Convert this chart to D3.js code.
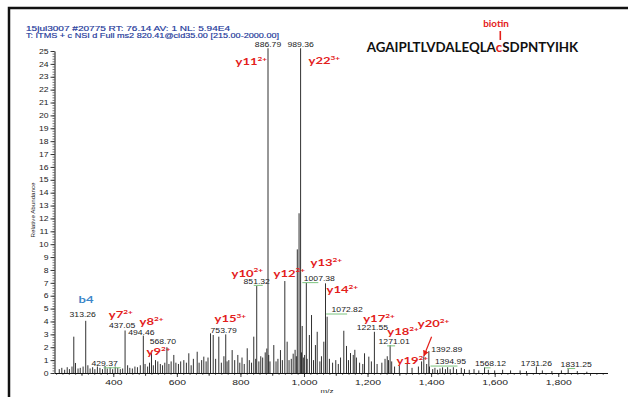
<!DOCTYPE html>
<html>
<head>
<meta charset="utf-8">
<script src="https://cdn.jsdelivr.net/npm/d3@7"></script>
<style>
  body { margin: 0; background: #fff; }
  svg { display: block; }
</style>
</head>
<body>
<div id="root"></div>
<script>
// ---- chart data ----
const headerLines = [
  "15jul3007 #20775  RT: 76.14  AV: 1  NL: 5.94E4",
  "T: ITMS + c NSI d Full ms2 820.41@cid35.00 [215.00-2000.00]"
];
const peptideParts = ["AGAIPLTLVDALEQLA", "c", "SDPNTYIHK"];
const modLabel = "biotin";

const xTicks = [400, 600, 800, 1000, 1200, 1400, 1600, 1800];
const yTicks = d3.range(0, 26);

// labelled peaks (m/z, relative abundance); the two base peaks run off the top
const labelMz = [313.26, 429.37, 437.05, 494.46, 568.70, 753.79, 851.32, 886.79, 989.36,
  1007.38, 1072.82, 1221.55, 1271.01, 1392.89, 1394.95, 1568.12, 1731.26, 1831.25];
const labelAb = [4.05, 0.35, 3.3, 2.9, 2.0, 3.0, 6.75, 100, 90,
  7.0, 4.37, 3.2, 2.17, 1.7, 0.5, 0.44, 0.5, 0.3];

// unlabelled peaks [m/z, relative abundance]
const otherPeaks = [
  [230, 0.3], [238, 0.4], [247, 0.25], [255, 0.45], [262, 0.3], [270, 0.5], [275.7, 2.82], [281, 0.78],
  [289, 0.35], [296, 0.4], [305, 0.5], [320, 0.6], [327, 0.35], [335, 0.45], [342, 0.3], [350, 0.5],
  [358, 0.4], [366, 0.3], [374, 0.55], [381, 0.35], [390, 0.45], [398, 0.3], [406, 0.5], [414, 0.4],
  [422, 0.3], [445, 0.6], [452, 0.4], [460, 0.35], [468, 0.5], [476, 0.45], [485, 0.6], [500, 0.7],
  [508, 0.5], [514, 0.8], [520.2, 1.58], [526, 0.6], [532.8, 1.0], [540, 0.9], [548, 0.7], [555, 0.6],
  [562, 0.8], [575, 0.7], [582, 0.9], [590.4, 1.4], [597, 0.8], [605, 0.7], [612, 0.9], [621.9, 1.0],
  [630, 0.8], [637.6, 1.53], [645, 0.6], [652, 1.1], [664, 1.65], [670, 0.8], [678, 1.0], [684.8, 1.27],
  [692, 0.9], [698, 1.2], [705.9, 3.08], [714.4, 2.95], [722, 1.1], [732, 2.82], [740, 0.8], [748, 1.3],
  [758, 0.9], [763.5, 1.0], [774, 1.78], [782, 1.0], [791.8, 1.4], [798, 0.8], [805, 1.2], [812, 0.7],
  [821.4, 1.92], [828, 1.0], [835, 0.8], [842, 2.82], [848, 1.1], [858, 0.9], [864, 1.3], [870, 1.2],
  [878, 1.6], [883, 1.9], [889, 1.4], [893, 0.9], [905, 2.17], [912, 0.9], [918, 1.1], [926, 1.78],
  [932, 1.0], [939.7, 7.14], [947, 2.43], [953, 1.0], [960, 1.1], [966, 1.5], [972, 1.8], [976, 1.3],
  [979, 9.6], [984.5, 12.4], [992, 1.6], [994.4, 3.65], [998, 1.2], [1002, 1.4], [1010, 1.1], [1017, 2.95],
  [1023.7, 4.5], [1030, 1.0], [1036, 2.17], [1041.6, 3.2], [1050, 0.9], [1055, 1.3], [1062.4, 2.43],
  [1067.7, 6.96], [1080, 1.1], [1090, 0.8], [1100, 1.0], [1108, 0.7], [1115, 1.2], [1125.3, 3.28],
  [1133.8, 2.1], [1140, 1.0], [1146.4, 1.55], [1155, 1.4], [1160, 1.8], [1165, 1.2], [1175, 0.8],
  [1185, 0.7], [1190.5, 1.53], [1204, 1.27], [1212, 0.9], [1230, 0.7], [1245, 0.8], [1255, 1.1],
  [1262, 1.3], [1266, 1.0], [1276, 0.9], [1285, 0.5], [1300, 0.6], [1324.8, 0.75], [1340, 0.4],
  [1360, 0.5], [1370, 0.9], [1377, 1.3], [1386, 0.7], [1405, 0.3], [1412, 0.4], [1420, 0.25],
  [1428, 0.35], [1436, 0.44], [1445, 0.3], [1452, 0.45], [1460, 0.3], [1470, 0.45], [1480, 0.3],
  [1495, 0.4], [1505, 0.3], [1520, 0.25], [1535, 0.3], [1550, 0.2], [1580, 0.25], [1600, 0.2],
  [1625, 0.25], [1650, 0.2], [1680, 0.2], [1700, 0.15], [1750, 0.2], [1780, 0.15], [1810, 0.2],
  [1860, 0.15], [1890, 0.1]
];

// fragment ion annotations: name, charge, anchor (m/z, abundance) of the text
const ionNames = ["y11", "y22", "b4", "y7", "y8", "y9", "y15", "y10", "y12", "y13", "y14", "y17", "y18", "y20", "y19"];
const ionCharges = ["2+", "3+", "", "2+", "2+", "2+", "3+", "2+", "2+", "2+", "2+", "2+", "2+", "2+", "2+"];
const ionAnchorMz = [784.5, 1014.2, 290.5, 385.9, 482.5, 504.5, 718.5, 772, 904.1, 1020.5, 1070.9, 1186.4, 1262, 1358.2, 1291.1];
const ionAnchorAb = [23.91, 23.97, 5.41, 4.25, 3.73, 1.40, 3.98, 7.48, 7.48, 8.31, 6.23, 3.98, 2.95, 3.55, 0.70];
// arrow from y20 label down to its peak: [m/z, abundance] start and end
const arrowPts = [[1401.5, 2.82], [1377.3, 1.32]];

// ---- layout ----
const W = 628, H = 397;
const labelShift = { // pixel shift of m/z labels [dx, dy], default [0,-2]
  "313.26": [-3, -4], "429.37": [-18, -2.5], "437.05": [-3, -2], "494.46": [-2, -1], "568.70": [-4, -3],
  "753.79": [-2, -1], "851.32": [0, -2.5], "1007.38": [13, -2], "1072.82": [20, -4.5], "1221.55": [-2, -2],
  "1271.01": [4, -1], "1392.89": [18, 0.8], "1394.95": [21, -2.3], "1568.12": [6, -1.3],
  "1731.26": [0, -0.6], "1831.25": [8, -2.4]
};
const underline = { // green leader lines under labels: [dx from peak, length]
  "429.37": [-19, 17], "851.32": [-3, 9], "1007.38": [-4, 16], "1072.82": [-1, 21],
  "1271.01": [-3, 8], "1394.95": [1, 27], "1568.12": [0, 6], "1831.25": [-1, 8]
};

const svg = d3.select("#root").append("svg").attr("width", W).attr("height", H);

const x = d3.scaleLinear().domain([215, 1955]).range([54.5, 607.5]);
const y = d3.scaleLinear().domain([0, 25]).range([373, 51]);

// outer frame
svg.append("rect").attr("x", 9).attr("y", 8).attr("width", 660).attr("height", 420)
  .attr("fill", "none").attr("stroke", "#111").attr("stroke-width", 2.5);

// header
svg.selectAll(".hdr").data(headerLines).enter().append("text")
  .attr("class", "hdr")
  .attr("x", 26).attr("y", (d, i) => 30.6 + i * 7)
  .attr("textLength", (d, i) => i ? 253 : 204)
  .attr("lengthAdjust", "spacingAndGlyphs")
  .attr("font-family", "Liberation Sans, Arial, sans-serif")
  .attr("font-size", 6.8)
  .attr("fill", "#22389a")
  .attr("stroke", "#22389a").attr("stroke-width", 0.15)
  .text(d => d);

// peptide sequence, fitted to its width
const pep = svg.append("text")
  .attr("font-family", "Lato, sans-serif").attr("font-weight", 700)
  .attr("font-size", 13).attr("fill", "#111");
pep.selectAll("tspan").data(peptideParts).enter().append("tspan")
  .attr("fill", (d, i) => i === 1 ? "#e3201b" : "#111")
  .text(d => d);
const pepW = pep.node().getComputedTextLength();
const pepSx = 211.6 / pepW;
pep.attr("transform", `translate(366.7,51.5) scale(${pepSx},1)`);

svg.append("text")
  .attr("transform", "translate(496,26.7) scale(1.15,1)")
  .attr("text-anchor", "middle")
  .attr("font-family", "Lato, sans-serif").attr("font-weight", 700)
  .attr("font-size", 8.6).attr("fill", "#e3201b")
  .text(modLabel);
svg.append("line").attr("x1", 500.3).attr("x2", 500.3).attr("y1", 31).attr("y2", 40)
  .attr("stroke", "#e3201b").attr("stroke-width", 1.6);

// axes
const fontAx = "Liberation Sans, Arial, sans-serif";

const yMinor = svg.append("g").attr("transform", `translate(${x.range()[0]},0)`)
  .call(d3.axisLeft(y).tickValues(d3.range(0, 25.01, 0.2)).tickSize(2).tickFormat(""));
yMinor.select(".domain").remove();
yMinor.selectAll("line").attr("stroke", "#222").attr("stroke-width", 0.6);

const yAxis = svg.append("g").attr("transform", `translate(${x.range()[0]},0)`)
  .call(d3.axisLeft(y).tickValues(yTicks).tickSize(4).tickSizeOuter(0));
yAxis.select(".domain").attr("stroke", "#111");
yAxis.selectAll("line").attr("stroke", "#111").attr("stroke-width", 0.8);
yAxis.selectAll("text")
  .attr("font-family", fontAx).attr("font-size", 6.4).attr("fill", "#222")
  .attr("x", -6 / 1.35).attr("dy", "0.34em")
  .attr("transform", "scale(1.35,1)");

const xMinor = svg.append("g").attr("transform", `translate(0,${y(0)})`)
  .call(d3.axisBottom(x).tickValues(d3.range(220, 1955, 20)).tickSize(2).tickFormat(""));
xMinor.select(".domain").remove();
xMinor.selectAll("line").attr("stroke", "#222").attr("stroke-width", 0.6);
const xMid = svg.append("g").attr("transform", `translate(0,${y(0)})`)
  .call(d3.axisBottom(x).tickValues(d3.range(300, 1955, 200)).tickSize(3).tickFormat(""));
xMid.select(".domain").remove();
xMid.selectAll("line").attr("stroke", "#222").attr("stroke-width", 0.7);

const xAxis = svg.append("g").attr("transform", `translate(0,${y(0)})`)
  .call(d3.axisBottom(x).tickValues(xTicks).tickSize(4).tickSizeOuter(0));
xAxis.select(".domain").attr("stroke", "#111");
xAxis.selectAll("line").attr("stroke", "#111").attr("stroke-width", 0.8);
xAxis.selectAll("text")
  .attr("font-family", fontAx).attr("font-size", 7.4).attr("fill", "#222")
  .attr("x", 0).attr("y", 12).attr("dy", 0)
  .attr("transform", "scale(1.4,1)");

svg.append("text")
  .attr("transform", "translate(327,393) scale(1.3,1)")
  .attr("text-anchor", "middle").attr("font-family", fontAx)
  .attr("font-size", 6.2).attr("fill", "#222")
  .text("m/z");

svg.append("text")
  .attr("transform", "translate(34.5,210) rotate(-90)")
  .attr("text-anchor", "middle").attr("font-family", fontAx)
  .attr("font-size", 6.2).attr("fill", "#222")
  .text("Relative Abundance");

// peaks
svg.append("clipPath").attr("id", "plotclip")
  .append("rect").attr("x", 40).attr("y", 48.3).attr("width", 580).attr("height", 330);
const peaks = svg.append("g").attr("clip-path", "url(#plotclip)");

peaks.selectAll(".minor").data(otherPeaks).enter().append("line")
  .attr("class", "minor")
  .attr("x1", d => x(d[0])).attr("x2", d => x(d[0]))
  .attr("y1", y(0)).attr("y2", d => y(d[1]))
  .attr("stroke", "#1a1a1a").attr("stroke-width", 0.9);

const labelled = labelMz.map((m, i) => ({ mz: m, ab: labelAb[i], key: m.toFixed(2) }));
peaks.selectAll(".major").data(labelled).enter().append("line")
  .attr("class", "major")
  .attr("x1", d => x(d.mz)).attr("x2", d => x(d.mz))
  .attr("y1", y(0)).attr("y2", d => y(d.ab))
  .attr("stroke", "#1a1a1a").attr("stroke-width", 0.9);

const labelY = d => Math.max(y(d.ab), y(25.15)) + (labelShift[d.key] || [0, -2])[1];

// green leaders under some labels
svg.selectAll(".lead").data(labelled.filter(d => underline[d.key])).enter().append("line")
  .attr("class", "lead")
  .attr("x1", d => x(d.mz) + underline[d.key][0])
  .attr("x2", d => x(d.mz) + underline[d.key][0] + underline[d.key][1])
  .attr("y1", d => labelY(d) + 1.8)
  .attr("y2", d => labelY(d) + 1.8)
  .attr("stroke", "#7cc47f").attr("stroke-width", 1);

// m/z labels
svg.selectAll(".mzl").data(labelled).enter().append("text")
  .attr("class", "mzl")
  .attr("transform", d => {
    const s = labelShift[d.key] || [0, -2];
    return `translate(${x(d.mz) + s[0]},${labelY(d)}) scale(1.25,1)`;
  })
  .attr("text-anchor", "middle")
  .attr("font-family", fontAx).attr("font-size", 6.9).attr("fill", "#222")
  .text(d => d.key);

// ion annotations
const ions = ionNames.map((n, i) => ({ name: n, z: ionCharges[i], mz: ionAnchorMz[i], ab: ionAnchorAb[i] }));
const ionG = svg.selectAll(".ion").data(ions).enter().append("text")
  .attr("class", "ion")
  .attr("transform", d => `translate(${x(d.mz)},${y(d.ab)}) scale(1.28,1)`)
  .attr("font-family", "Lato, sans-serif").attr("font-weight", 700)
  .attr("font-size", 10.2)
  .attr("fill", d => d.name.startsWith("b") ? "#3b86c9" : "#e3201b");
ionG.append("tspan").text(d => d.name);
ionG.append("tspan").attr("font-size", 6.4).attr("dy", -4.2).text(d => d.z);

// arrow
svg.append("defs").append("marker").attr("id", "arr")
  .attr("viewBox", "0 0 10 10").attr("refX", 9).attr("refY", 5)
  .attr("markerWidth", 5).attr("markerHeight", 5).attr("orient", "auto")
  .append("path").attr("d", "M0,0L10,5L0,10z").attr("fill", "#e3201b");
svg.append("line")
  .attr("x1", x(arrowPts[0][0])).attr("y1", y(arrowPts[0][1]))
  .attr("x2", x(arrowPts[1][0])).attr("y2", y(arrowPts[1][1]))
  .attr("stroke", "#e3201b").attr("stroke-width", 1.2)
  .attr("marker-end", "url(#arr)");
</script>
</body>
</html>
